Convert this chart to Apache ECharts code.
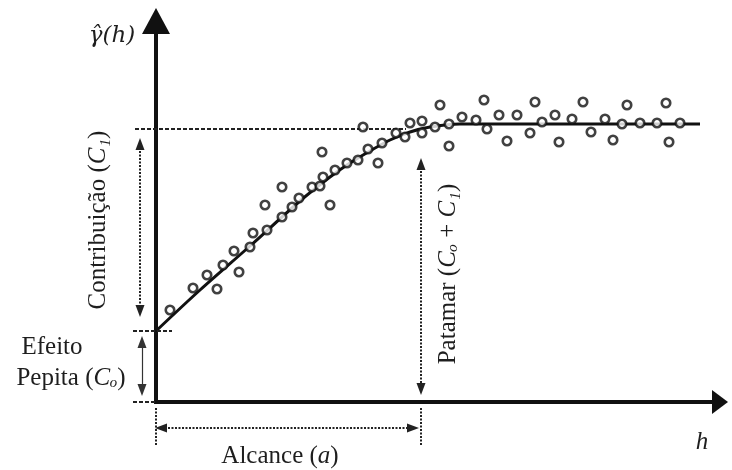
<!DOCTYPE html>
<html>
<head>
<meta charset="utf-8">
<script src="https://cdn.jsdelivr.net/npm/echarts@6/dist/echarts.min.js"></script>
<style>
html,body{margin:0;padding:0;background:#fff;}
#chart{width:732px;height:470px;}
</style>
</head>
<body>
<div id="chart"></div>
<script>
// ---- Data (h = lag distance, gamma = semivariance) ----
const obsH = [14,37,51,61,67,78,83,94,97,111,109,126,126,136,143,156,164,167,166,174,179,191,202,207,212,222,226,240,249,254,266,266,279,284,293,293,306,320,328,331,343,351,361,374,379,386,399,403,416,427,435,449,457,466,471,484,501,510,513,524];
const obsGamma = [92,114,127,113,137,151,130,155,169,172,197,185,215,195,204,215,216,225,250,197,232,239,242,275,253,239,259,269,265,279,281,269,275,297,278,256,285,282,302,273,287,261,287,269,300,280,287,260,283,300,270,283,262,278,297,279,279,299,260,279];

const modelH = [0,44,94,144,174,194,214,234,254,274,304,544];
const modelGamma = [71,112,156,201,225,239,251,262,270,275,278,278];

// model parameters
const nugget = 71;     // C0
const sill = 273;      // C0 + C1
const rangeA = 265;    // a

const axisColor = '#111';
const textColor = '#1e1e1e';
const serif = '"Liberation Serif","DejaVu Serif",serif';
const FS = 25;

function pairs(xs, ys){ return xs.map((x,i)=>[x, ys[i]]); }

const richStyles = {
  n:{fontFamily:serif,fontSize:FS,color:textColor},
  i:{fontFamily:serif,fontSize:FS,fontStyle:'italic',color:textColor},
  s:{fontFamily:'"DejaVu Serif",serif',fontSize:23,fontStyle:'italic',color:textColor}
};

const labels = [
  {coord:[-44,366], text:'{s|γ̂(h)}', rotate:0},
  {coord:[-58,182], text:'{n|Contribuição (}{i|C₁}{n|)}', rotate:90},
  {coord:[-104,55], text:'{n|Efeito}', rotate:0},
  {coord:[-85,24], text:'{n|Pepita (}{i|Cₒ}{n|)}', rotate:0},
  {coord:[292,128], text:'{n|Patamar (}{i|Cₒ}{n| + }{i|C₁}{n|)}', rotate:90},
  {coord:[124,-54], text:'{n|Alcance (}{i|a}{n|)}', rotate:0},
  {coord:[546,-40], text:'{i|h}', rotate:0}
];

function arrowBoth(a, b){
  return [{coord:a, symbol:'triangle', symbolSize:[9,12]},{coord:b, symbol:'triangle', symbolSize:[9,12]}];
}

const option = {
  animation:false,
  backgroundColor:'#fff',
  grid:{left:0,right:0,top:0,bottom:0,containLabel:false},
  xAxis:{type:'value',min:-156,max:576,show:false,splitLine:{show:false}},
  yAxis:{type:'value',min:-68,max:402,show:false,splitLine:{show:false}},
  series:[
    {
      type:'line', name:'modelo', data:pairs(modelH, modelGamma),
      smooth:0.3, symbol:'none', silent:true,
      lineStyle:{color:'#111',width:3}, z:3
    },
    {
      type:'scatter', name:'observado', data:pairs(obsH, obsGamma),
      symbol:'circle', symbolSize:8.5, silent:true,
      itemStyle:{color:'#fff',borderColor:'#111',borderWidth:2.6}, z:5
    },
    { // axes
      type:'line', data:[], silent:true, z:4,
      markLine:{
        silent:true, animation:false, emphasis:{disabled:true},
        label:{show:false}, symbol:'none',
        lineStyle:{color:axisColor,width:4,type:'solid'},
        data:[
          [{coord:[0,-2],symbol:'none'},{coord:[0,381],symbol:'triangle',symbolSize:[28,26]}],
          [{coord:[-2,0],symbol:'none'},{coord:[564,0],symbol:'triangle',symbolSize:[24,16]}]
        ]
      }
    },
    { // dotted arrows
      type:'line', data:[], silent:true, z:2,
      markLine:{
        silent:true, animation:false, emphasis:{disabled:true},
        label:{show:false},
        lineStyle:{color:'#222',width:2,type:[2,1.5]},
        data:[
          arrowBoth([-16,258],[-16,91]),
          arrowBoth([rangeA,238],[rangeA,13]),
          arrowBoth([5,-26],[rangeA-8,-26]),
          [{coord:[0,-6],symbol:'none'},{coord:[0,-43],symbol:'none'}],
          [{coord:[rangeA,-6],symbol:'none'},{coord:[rangeA,-43],symbol:'none'}]
        ]
      }
    },
    { // dashed reference lines
      type:'line', data:[], silent:true, z:2,
      markLine:{
        silent:true, animation:false, emphasis:{disabled:true},
        label:{show:false}, symbol:'none',
        lineStyle:{color:'#222',width:1.8,type:[4,2]},
        data:[
          [{coord:[-21,sill]},{coord:[250,sill]}],
          [{coord:[-23,nugget]},{coord:[16,nugget]}],
          [{coord:[-23,0]},{coord:[0,0]}]
        ]
      }
    },
    { // nugget arrow (thin solid)
      type:'line', data:[], silent:true, z:2,
      markLine:{
        silent:true, animation:false, emphasis:{disabled:true},
        label:{show:false},
        lineStyle:{color:'#333',width:1.2,type:'solid'},
        data:[ arrowBoth([-14,60],[-14,12]) ]
      }
    },
    { // text labels
      type:'scatter', data:[], silent:true, z:6,
      markPoint:{
        silent:true, animation:false,
        symbol:'rect', symbolSize:1, itemStyle:{color:'rgba(0,0,0,0)'},
        data: labels.map(l=>({
          coord:l.coord,
          label:{show:true, position:'inside', formatter:l.text, rotate:l.rotate,
                 align:'center', verticalAlign:'middle', rich:richStyles}
        }))
      }
    }
  ]
};

const chart = echarts.init(document.getElementById('chart'), null, {renderer:'canvas'});
chart.setOption(option);
</script>
</body>
</html>
